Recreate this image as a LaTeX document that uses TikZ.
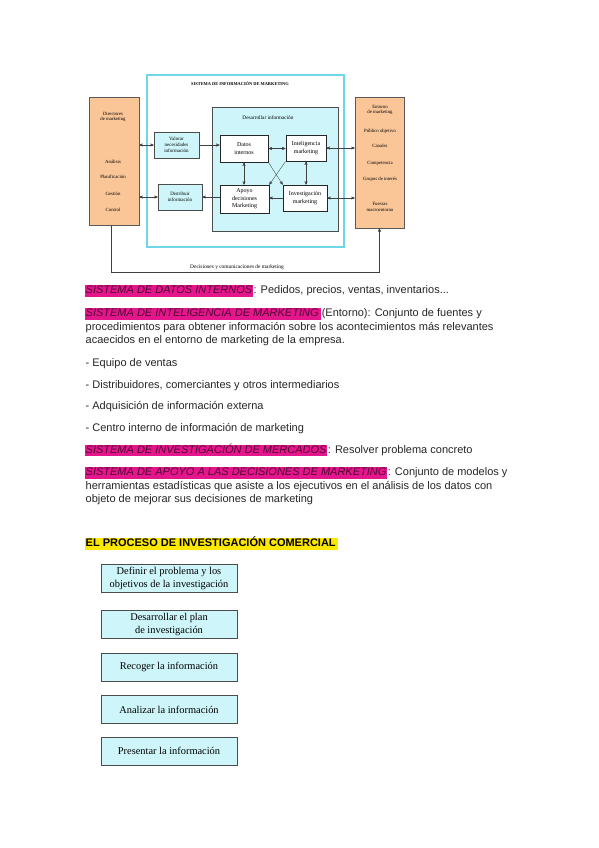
\documentclass[tikz,border=0pt]{standalone}
\usepackage{fontspec}
\setmainfont{Liberation Sans}
\newfontfamily\diagserif{Liberation Serif}
\usetikzlibrary{arrows,positioning}

\definecolor{peach}{RGB}{250,198,152}
\definecolor{palecyan}{RGB}{206,246,250}
\definecolor{framecyan}{RGB}{110,214,230}
\definecolor{pinkhl}{RGB}{228,22,140}
\definecolor{plumtext}{RGB}{80,8,50}
\definecolor{yellowhl}{RGB}{255,232,0}

\tikzset{
  orangebox/.style={draw=black!65, fill=peach, line width=0.5pt},
  infobox/.style={draw=black!70, fill=palecyan, line width=0.6pt, align=center, inner sep=1pt,
    font=\diagserif\fontsize{5}{6}\selectfont},
  subbox/.style={draw=black!85, fill=white, line width=0.9pt, align=center, inner sep=1pt,
    font=\diagserif\fontsize{6}{7.5}\selectfont},
  lbl/.style={font=\diagserif\fontsize{4.8}{5.8}\selectfont, align=center, inner sep=0pt},
  link/.style={draw=black!75, line width=0.35pt},
  hl/.style={fill=pinkhl, text=plumtext, font=\fontsize{11}{13}\selectfont\itshape, inner sep=0.5pt,
    text height=8.2pt, text depth=2.4pt, anchor=west},
  body/.style={inner sep=0.5pt, text height=8.2pt, text depth=2.4pt, anchor=west, text=black!85,
    font=\fontsize{11}{13}\selectfont},
  stepbox/.style={draw=black!70, fill=palecyan, line width=0.7pt, minimum width=136pt,
    minimum height=28pt, inner sep=1pt, align=center, font=\diagserif\fontsize{10.4}{13}\selectfont}
}

\begin{document}
\begin{tikzpicture}[x=1pt,y=-1pt,>=stealth',node distance=14pt]
  \useasboundingbox[fill=white] (0,0) rectangle (599,848);

  % sistema de informacion de marketing
  \node[draw=framecyan, fill=white, line width=1.1pt, minimum width=197pt, minimum height=172pt] (sim) at (245.5,161) {};
  \node[lbl, font=\diagserif\bfseries\fontsize{4.4}{5}\selectfont] (simtitle) at (240,84) {SISTEMA DE INFORMACIÓN DE MARKETING};

  \node[orangebox, minimum width=50pt, minimum height=128pt] (dir) at (114,161) {};
  \node[lbl] (dirtitle) at (113,117) {Directores\\de marketing};
  \node[lbl] (analisis) at (113,162) {Análisis};
  \node[lbl] (planif) at (113,177) {Planificación};
  \node[lbl] (gestion) at (113,194) {Gestión};
  \node[lbl] (control) at (113,210) {Control};

  \node[orangebox, minimum width=49pt, minimum height=131pt] (env) at (379.5,162.5) {};
  \node[lbl] (entorno) at (380,110) {Entorno\\de marketing};
  \node[lbl] (publico) at (380,131) {Público objetivo};
  \node[lbl] (canales) at (380,146) {Canales};
  \node[lbl] (compet) at (380,163) {Competencia};
  \node[lbl] (grupos) at (380,179) {Grupos de interés};
  \node[lbl] (fuerzas) at (380,207) {Fuerzas\\macroentorno};

  \node[infobox, minimum width=45pt, minimum height=26pt] (valorar) at (176.5,145) {Valorar\\necesidades\\información};
  \node[infobox, minimum width=44pt, minimum height=26pt] (distrib) at (180,197) {Distribuir\\información};

  \node[draw=black!70, fill=palecyan, line width=0.9pt, minimum width=126pt, minimum height=124pt] (desarr) at (275,169) {};
  \node[lbl, font=\diagserif\fontsize{5.3}{6}\selectfont] (desarrtitle) at (268,118) {Desarrollar información};

  \node[subbox, minimum width=48pt, minimum height=27pt] (datos) at (244,148.5) {Datos\\internos};
  \node[subbox, minimum width=40pt, minimum height=26pt] (intel) at (306,148) {Inteligencia\\marketing};
  \node[subbox, line width=0.6pt, minimum width=49pt, minimum height=28pt] (apoyo) at (244.5,199) {Apoyo\\decisiones\\Marketing};
  \node[subbox, line width=0.6pt, minimum width=44pt, minimum height=26pt] (invest) at (305,198) {Investigación\\marketing};

  \draw[link,<->] (dir.east |- valorar) -- (valorar.west);
  \draw[link,->] (valorar.east) -- (valorar.east -| datos.west);
  \draw[link,<->] (dir.east |- distrib) -- (distrib.west);
  \draw[link,<-] (distrib.east) -- (distrib.east -| apoyo.west);
  \draw[link,<->] (datos.east) -- (datos.east -| intel.west);
  \draw[link,<->] (env.west |- intel) -- (intel.east);
  \draw[link,<->] (env.west |- invest) -- (invest.east);
  \draw[link,->] (invest.west) -- (invest.west -| apoyo.east);
  \draw[link,<->] (datos.south) -- (datos.south |- apoyo.north);
  \draw[link,<->] (intel.south) -- (intel.south |- invest.north);
  \draw[link,->] (datos.south east) -- (invest.north west);
  \draw[link,->] (intel.south west) -- (apoyo.north east);

  \coordinate (fbl) at (111,272);
  \draw[link,->] (dir.south -| fbl) -- (fbl) -| (env.south);
  \node[lbl, font=\diagserif\fontsize{5.4}{6}\selectfont] (decis) at (237,267) {Decisiones y comunicaciones de marketing};

  % definiciones
  \node[hl] (sdi) at (85,291) {SISTEMA DE DATOS INTERNOS};
  \node[body, right=0pt of sdi] (sdit) {: Pedidos, precios, ventas, inventarios...};
  \node[hl] (sin) at (85,314) {SISTEMA DE INTELIGENCIA DE MARKETING\,};
  \node[body, right=0pt of sin] (sint) {(Entorno): Conjunto de fuentes y};
  \node[body] (sin2) at (85,328) {procedimientos para obtener información sobre los acontecimientos más relevantes};
  \node[body] (sin3) at (85,341) {acaecidos en el entorno de marketing de la empresa.};
  \node[body] (eq) at (85,364) {- Equipo de ventas};
  \node[body] (distr) at (85,385.5) {- Distribuidores, comerciantes y otros intermediarios};
  \node[body] (adq) at (85,407) {- Adquisición de información externa};
  \node[body] (centro) at (85,428.5) {- Centro interno de información de marketing};
  \node[hl] (sim2) at (85,450.5) {SISTEMA DE INVESTIGACIÓN DE MERCADOS};
  \node[body, right=0pt of sim2] (sim2t) {: Resolver problema concreto};
  \node[hl] (sad) at (85,473) {SISTEMA DE APOYO A LAS DECISIONES DE MARKETING};
  \node[body, right=0pt of sad] (sadt) {: Conjunto de modelos y};
  \node[body] (sad2) at (85,486.5) {herramientas estadísticas que asiste a los ejecutivos en el análisis de los datos con};
  \node[body] (sad3) at (85,500) {objeto de mejorar sus decisiones de marketing};

  % proceso de investigacion comercial
  \node[body, fill=yellowhl, text=black, font=\fontsize{11}{13}\selectfont\bfseries] (proc) at (85,544) {EL PROCESO DE INVESTIGACIÓN COMERCIAL\,};
  \node[stepbox] (definir) at (169,578.5) {Definir el problema y los\\objetivos de la investigación};
  \node[stepbox, below=17pt of definir] (plan) {Desarrollar el plan\\de investigación};
  \node[stepbox, below=of plan] (recoger) {Recoger la información};
  \node[stepbox, below=of recoger] (analizar) {Analizar la información};
  \node[stepbox, below=13pt of analizar] (presentar) {Presentar la información};
\end{tikzpicture}
\end{document}
